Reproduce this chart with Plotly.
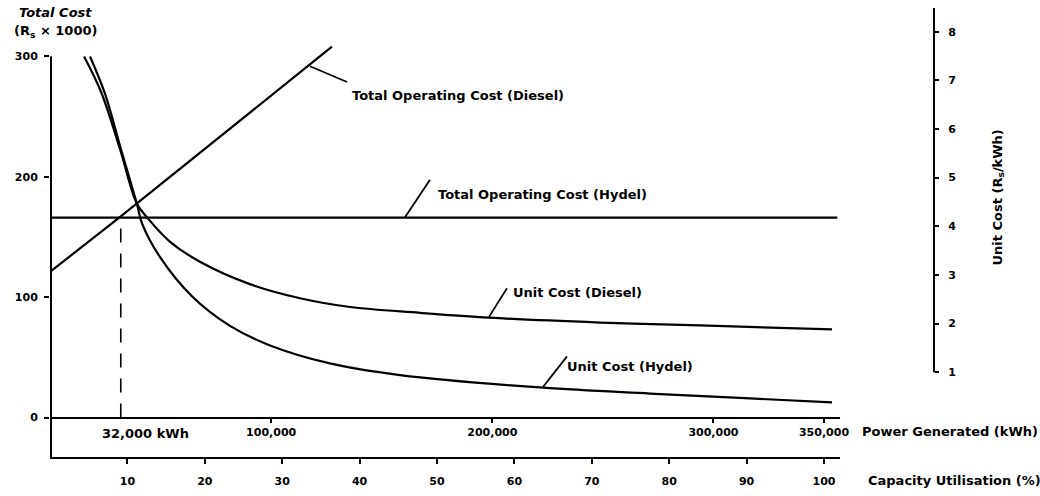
import plotly.graph_objects as go

# ---------------- data ----------------
MAX_KWH = 350000                      # 100 % capacity utilisation
POWER_TICKS = [100000, 200000, 300000, 350000]
POWER_TICK_TEXT = ["100,000", "200,000", "300,000", "350,000"]
CAPACITY_TICKS = [10, 20, 30, 40, 50, 60, 70, 80, 90, 100]
COST_TICKS = [0, 100, 200, 300]
UNIT_TICKS = [1, 2, 3, 4, 5, 6, 7, 8]

BREAK_EVEN_KWH = 32000

diesel_total_kwh = [0, 32000, 127500]
diesel_total_cost = [121, 167, 308]          # Rs x 1000

hydel_total_kwh = [0, 356000]
hydel_total_cost = [166, 166]                # Rs x 1000

diesel_unit_kwh = [15400, 23100, 31700, 39300, 44300, 54300, 67800, 90400,
                   113100, 135700, 167300, 198500, 248700, 293900, 353600]
diesel_unit_cost = [7.49, 6.76, 5.58, 4.46, 4.16, 3.68, 3.27, 2.81,
                    2.52, 2.34, 2.22, 2.12, 2.02, 1.96, 1.88]   # Rs/kWh

hydel_unit_kwh = [18100, 24900, 32100, 39300, 41600, 49700, 64200, 81400,
                  99500, 126600, 158300, 222900, 271300, 316500, 353600]
hydel_unit_cost = [7.49, 6.72, 5.58, 4.46, 4.06, 3.37, 2.56, 1.95,
                   1.55, 1.18, 0.94, 0.68, 0.56, 0.46, 0.38]    # Rs/kWh

# ---------------- layout geometry (pixels) ----------------
PX_L, PX_R, PX_T, PX_B = 50, 934, 8, 463
AXIS_END_PX = 840
POWER_AXIS_PX = 423


def px(x):
    return (x - PX_L) / (PX_R - PX_L)


def py(y):
    return (PX_B - y) / (PX_B - PX_T)


x_dom_end = px(AXIS_END_PX)
kwh_per_px = MAX_KWH / (824 - PX_L)
x_max = (AXIS_END_PX - PX_L) * kwh_per_px
cost_per_px = 100 / 122.0
cost_range = [-(PX_B - POWER_AXIS_PX) * cost_per_px, (POWER_AXIS_PX - PX_T) * cost_per_px]
unit_per_px = 1 / 49.286
unit_zero_px = 426.3
unit_range = [-(PX_B - unit_zero_px) * unit_per_px, (unit_zero_px - PX_T) * unit_per_px]

FONT = "DejaVu Sans"
INK = "black"
LW = 2.2

fig = go.Figure()

fig.add_trace(go.Scatter(x=diesel_total_kwh, y=diesel_total_cost, mode="lines",
                         line=dict(color=INK, width=LW), xaxis="x", yaxis="y",
                         name="Total Operating Cost (Diesel)"))
fig.add_trace(go.Scatter(x=hydel_total_kwh, y=hydel_total_cost, mode="lines",
                         line=dict(color=INK, width=LW), xaxis="x", yaxis="y",
                         name="Total Operating Cost (Hydel)"))
fig.add_trace(go.Scatter(x=[BREAK_EVEN_KWH, BREAK_EVEN_KWH], y=[0, hydel_total_cost[0]],
                         mode="lines", line=dict(color=INK, width=1.6, dash="14px,11px"),
                         xaxis="x", yaxis="y", name="Break-even"))
fig.add_trace(go.Scatter(x=diesel_unit_kwh, y=diesel_unit_cost, mode="lines",
                         line=dict(color=INK, width=LW, shape="spline", smoothing=1.0),
                         xaxis="x", yaxis="y2", name="Unit Cost (Diesel)"))
fig.add_trace(go.Scatter(x=hydel_unit_kwh, y=hydel_unit_cost, mode="lines",
                         line=dict(color=INK, width=LW, shape="spline", smoothing=1.0),
                         xaxis="x", yaxis="y2", name="Unit Cost (Hydel)"))
# empty trace so the capacity-utilisation axis gets drawn
fig.add_trace(go.Scatter(x=[CAPACITY_TICKS[0], CAPACITY_TICKS[-1]], y=[None, None],
                         mode="lines", xaxis="x2", yaxis="y", hoverinfo="skip",
                         name="Capacity Utilisation"))

tickfont = dict(family=FONT, size=11, color=INK, weight="bold")

fig.update_layout(
    width=1040, height=496,
    margin=dict(l=PX_L, r=1040 - PX_R, t=PX_T, b=496 - PX_B),
    paper_bgcolor="white", plot_bgcolor="white",
    showlegend=False,
    font=dict(family=FONT, size=12, color=INK),
    xaxis=dict(domain=[0, x_dom_end], range=[0, x_max], anchor="free",
               position=py(POWER_AXIS_PX), showline=True, linecolor=INK, linewidth=2,
               ticks="outside", ticklen=4, tickwidth=2, tickcolor=INK,
               tickvals=POWER_TICKS, ticktext=POWER_TICK_TEXT, tickfont=tickfont,
               showgrid=False, zeroline=False),
    xaxis2=dict(domain=[0, x_dom_end], range=[0, x_max / MAX_KWH * 100], overlaying="x",
                anchor="y", side="bottom", showline=True, linecolor=INK, linewidth=2,
                ticks="outside", ticklen=5, tickwidth=2, tickcolor=INK,
                tickvals=CAPACITY_TICKS, tickfont=tickfont, ticklabelstandoff=8,
                showgrid=False, zeroline=False),
    yaxis=dict(range=cost_range, anchor="x", showline=False,
               ticks="outside", ticklen=5, tickwidth=2, tickcolor=INK,
               tickvals=COST_TICKS, tickfont=tickfont, ticklabelstandoff=4,
               showgrid=False, zeroline=False),
    yaxis2=dict(range=unit_range, overlaying="y", anchor="free", position=1, side="right",
                showline=False, ticks="outside", ticklen=4, tickwidth=2, tickcolor=INK,
                tickvals=UNIT_TICKS, tickfont=tickfont, ticklabelstandoff=7,
                showgrid=False, zeroline=False),
)

shapes = [
    # left axis line (from 300 down to the capacity axis)
    dict(type="line", xref="paper", yref="y", x0=px(51), x1=px(51),
         y0=COST_TICKS[-1], y1=cost_range[0], line=dict(color=INK, width=2)),
    # right axis line
    dict(type="line", xref="paper", yref="y2", x0=1, x1=1,
         y0=UNIT_TICKS[0], y1=unit_range[1], line=dict(color=INK, width=2)),
]
# leader lines
for (xa, ya, xb, yb) in [(347, 83, 310, 67), (430, 182, 405, 220),
                         (507, 292, 489, 321), (567, 361, 543, 392)]:
    shapes.append(dict(type="line", xref="paper", yref="paper",
                       x0=px(xa), y0=py(ya), x1=px(xb), y1=py(yb),
                       line=dict(color=INK, width=1.8)))
fig.update_layout(shapes=shapes)

afont = dict(family=FONT, size=13, color=INK, weight="bold")
ann = [
    dict(text="<i>Total Cost</i>", x=px(55), y=py(13), xanchor="center"),
    dict(text="(R<sub>s</sub> × 1000)", x=px(55), y=py(32), xanchor="center"),
    dict(text="Total Operating Cost (Diesel)", x=px(350), y=py(97), xanchor="left"),
    dict(text="Total Operating Cost (Hydel)", x=px(436), y=py(197), xanchor="left"),
    dict(text="Unit Cost (Diesel)", x=px(511), y=py(296), xanchor="left"),
    dict(text="Unit Cost (Hydel)", x=px(565), y=py(371), xanchor="left"),
    dict(text="32,000 kWh", x=px(145), y=py(439), xanchor="center"),
    dict(text="Power Generated (kWh)", x=px(860), y=py(437), xanchor="left"),
    dict(text="Capacity Utilisation (%)", x=px(866), y=py(487), xanchor="left"),
    dict(text="Unit Cost (R<sub>s</sub>/kWh)", x=px(998), y=py(200), xanchor="center",
         textangle=-90),
]
for a in ann:
    a.update(xref="paper", yref="paper", yanchor="middle", showarrow=False, font=afont)
fig.update_layout(annotations=ann)

fig.write_html("out.html", config={"displayModeBar": False},
               post_script="document.body.style.margin='0';")
